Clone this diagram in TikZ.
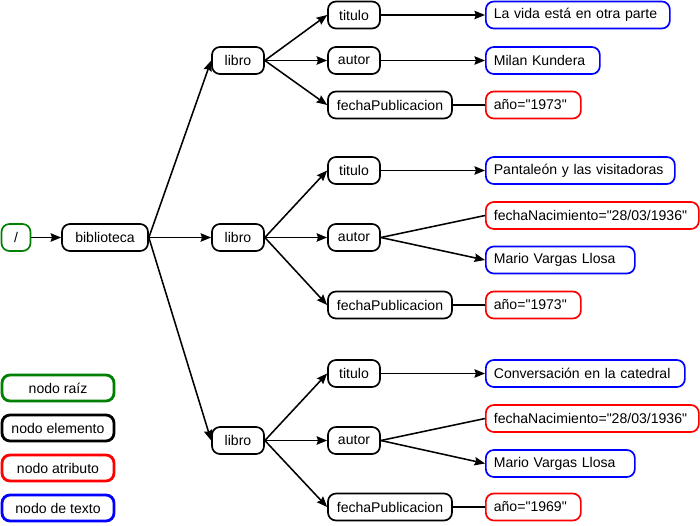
\documentclass[tikz,border=0pt]{standalone}
\usepackage{fontspec}
\setmainfont{Liberation Sans}
\usepackage{tikz}
\usetikzlibrary{shapes, arrows.meta}
\usepackage{xcolor}
\definecolor{verde}{RGB}{0,128,0}
\tikzstyle{elemento} = [rectangle, rounded corners=0.2cm, minimum width=1.3cm, minimum height=0.675cm, inner xsep=0.2cm, text centered, draw=black, line width=1.2pt]
\tikzstyle{raizbox} = [elemento, draw=verde, minimum width=0.725cm]
\tikzstyle{atributo} = [rectangle, rounded corners=0.2cm, minimum height=0.675cm, inner xsep=0.2cm, align=left, draw=red, line width=1.2pt]
\tikzstyle{texto} = [atributo, draw=blue]
\tikzstyle{leyenda} = [rectangle, rounded corners=0.2cm, minimum width=2.8cm, minimum height=0.65cm, text centered, line width=2pt]
\tikzstyle{arrow} = [line width=1.1pt,-{Stealth[length=7.5pt,width=6pt,inset=1pt]}]
\tikzstyle{linea} = [line width=1.1pt]

\begin{document}
\begin{tikzpicture}[node distance=2.9cm]
\useasboundingbox (-0.4,5.9375) rectangle (17.1,-7.1875);
%
% Define nodes
%
\node (raiz) [raizbox] {/};
\node (biblioteca) [elemento, right of=raiz, xshift=-0.675cm, minimum width=2.15cm] {biblioteca};
\node (libro2) [elemento, right of=biblioteca, xshift=0.425cm] {libro};
\node (libro1) [elemento, above of=libro2, yshift=1.525cm] {libro};
\node (libro3) [elemento, below of=libro2, yshift=-2.175cm] {libro};
% primer libro
\node (autor1) [elemento, right of=libro1] {autor};
\node (titulo1) [elemento, above of=autor1, yshift=-1.7625cm] {titulo};
\node (fecha1) [elemento, below of=autor1, xshift=0.9cm, yshift=1.7875cm, minimum width=3.1cm] {fechaPublicacion};
\node (tit_txt1) [texto, right of=titulo1, anchor=west, xshift=0.375cm, text width=4.2cm] {La vida está en otra parte};
\node (aut_txt1) [texto, right of=autor1, anchor=west, xshift=0.375cm, text width=2.45cm] {Milan Kundera};
\node (anio1) [atributo, right of=fecha1, anchor=west, xshift=-0.525cm, text width=1.975cm] {año=\textquotedbl 1973\textquotedbl};
% segundo libro
\node (autor2) [elemento, right of=libro2] {autor};
\node (titulo2) [elemento, above of=autor2, yshift=-1.225cm] {titulo};
\node (fecha2) [elemento, below of=autor2, xshift=0.9cm, yshift=1.2125cm, minimum width=3.1cm] {fechaPublicacion};
\node (tit_txt2) [texto, right of=titulo2, anchor=west, xshift=0.375cm, text width=4.325cm] {Pantaleón y las visitadoras};
\node (nac2) [atributo, right of=autor2, anchor=west, xshift=0.375cm, yshift=0.55cm, text width=4.925cm] {fechaNacimiento=\textquotedbl 28/03/1936\textquotedbl};
\node (aut_txt2) [texto, right of=autor2, anchor=west, xshift=0.375cm, yshift=-0.5625cm, text width=3.325cm] {Mario Vargas Llosa};
\node (anio2) [atributo, right of=fecha2, anchor=west, xshift=-0.525cm, text width=1.975cm] {año=\textquotedbl 1973\textquotedbl};
% tercer libro
\node (autor3) [elemento, right of=libro3] {autor};
\node (titulo3) [elemento, above of=autor3, yshift=-1.225cm] {titulo};
\node (fecha3) [elemento, below of=autor3, xshift=0.9cm, yshift=1.2375cm, minimum width=3.1cm] {fechaPublicacion};
\node (tit_txt3) [texto, right of=titulo3, anchor=west, xshift=0.375cm, text width=4.575cm] {Conversación en la catedral};
\node (nac3) [atributo, right of=autor3, anchor=west, xshift=0.375cm, yshift=0.55cm, text width=4.925cm] {fechaNacimiento=\textquotedbl 28/03/1936\textquotedbl};
\node (aut_txt3) [texto, right of=autor3, anchor=west, xshift=0.375cm, yshift=-0.575cm, text width=3.325cm] {Mario Vargas Llosa};
\node (anio3) [atributo, right of=fecha3, anchor=west, xshift=-0.525cm, text width=1.975cm] {año=\textquotedbl 1969\textquotedbl};
% leyenda
\node (ley_raiz) [leyenda, draw=verde] at (1.05,-3.7625) {nodo raíz};
\node (ley_elem) [leyenda, draw=black, below of=ley_raiz, yshift=1.9cm] {nodo elemento};
\node (ley_atr) [leyenda, draw=red, below of=ley_elem, yshift=1.9cm] {nodo atributo};
\node (ley_txt) [leyenda, draw=blue, below of=ley_atr, yshift=1.9cm] {nodo de texto};
%
% Connect nodes
%
\draw [arrow] (raiz) -- (biblioteca);
\draw [arrow] (biblioteca.east) -- (libro1.west);
\draw [arrow] (biblioteca.east) -- (libro2.west);
\draw [arrow] (biblioteca.east) -- (libro3.west);
\draw [arrow] (libro1.east) -- (titulo1.west);
\draw [arrow] (libro1.east) -- (autor1.west);
\draw [arrow] (libro1.east) -- (fecha1.west);
\draw [arrow] (titulo1.east) -- (tit_txt1.west);
\draw [arrow] (autor1.east) -- (aut_txt1.west);
\draw [linea] (fecha1.east) -- (anio1.west);
\draw [arrow] (libro2.east) -- (titulo2.west);
\draw [arrow] (libro2.east) -- (autor2.west);
\draw [arrow] (libro2.east) -- (fecha2.west);
\draw [arrow] (titulo2.east) -- (tit_txt2.west);
\draw [linea] (autor2.east) -- (nac2.west);
\draw [arrow] (autor2.east) -- (aut_txt2.west);
\draw [linea] (fecha2.east) -- (anio2.west);
\draw [arrow] (libro3.east) -- (titulo3.west);
\draw [arrow] (libro3.east) -- (autor3.west);
\draw [arrow] (libro3.east) -- (fecha3.west);
\draw [arrow] (titulo3.east) -- (tit_txt3.west);
\draw [linea] (autor3.east) -- (nac3.west);
\draw [arrow] (autor3.east) -- (aut_txt3.west);
\draw [linea] (fecha3.east) -- (anio3.west);
\end{tikzpicture}
\end{document}
